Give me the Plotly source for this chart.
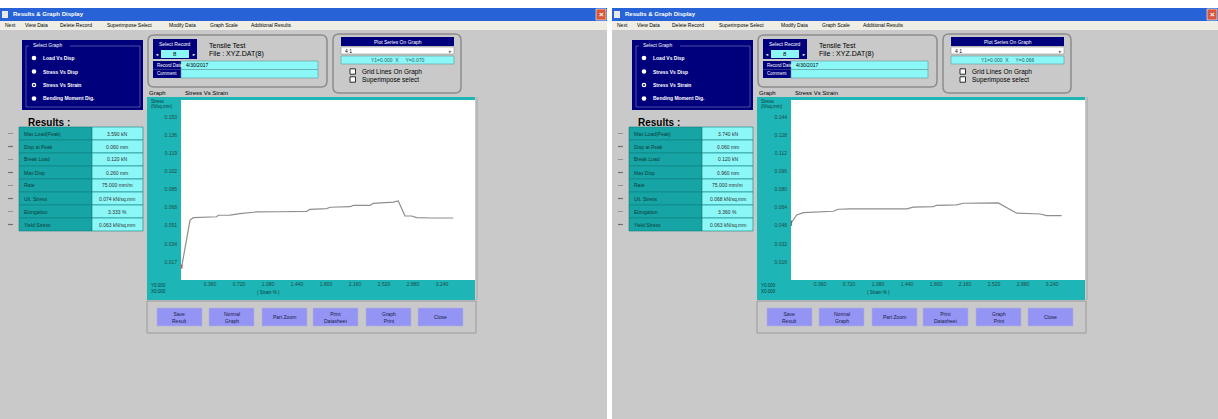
import plotly.graph_objects as go

W, H = 1218, 419
FONT = "Liberation Sans"

# ---- test data (stress in kN/sq.mm vs strain in %) ----
strain_a = [0.009, 0.112, 0.153, 0.277, 0.443, 0.463, 0.608, 0.732, 0.940, 1.229, 1.560, 1.601,
            1.809, 1.850, 2.098, 2.139, 2.346, 2.387, 2.635, 2.697, 2.781, 2.864, 2.926, 3.091, 3.380]
stress_a = [0.0125, 0.0563, 0.0585, 0.0589, 0.0594, 0.0608, 0.0610, 0.0623, 0.0639, 0.0641, 0.0645, 0.0664,
            0.0670, 0.0683, 0.0688, 0.0701, 0.0701, 0.0720, 0.0732, 0.0742, 0.0601, 0.0601, 0.0585, 0.0582, 0.0582]

strain_b = [0.000, 0.071, 0.153, 0.319, 0.525, 0.587, 0.732, 1.436, 1.518, 1.766, 1.809, 2.057,
            2.139, 2.573, 2.635, 2.802, 3.091, 3.174, 3.360]
stress_b = [0.0501, 0.0575, 0.0595, 0.0601, 0.0607, 0.0625, 0.0628, 0.0628, 0.0643, 0.0648, 0.0660, 0.0663,
            0.0678, 0.0681, 0.0657, 0.0590, 0.0583, 0.0568, 0.0568]

x_ticks = [0.36, 0.72, 1.08, 1.44, 1.80, 2.16, 2.52, 2.88, 3.24]
x_ticktext = ["0.360", "0.720", "1.080", "1.440", "1.800", "2.160", "2.520", "2.880", "3.240"]
y_ticks_a = [0.017, 0.034, 0.051, 0.068, 0.085, 0.102, 0.119, 0.136, 0.153]
y_ticks_b = [0.016, 0.032, 0.048, 0.064, 0.080, 0.096, 0.112, 0.128, 0.144]

result_names = ["Max Load(Peak)", "Disp at Peak", "Break Load", "Max Disp",
                "Rate", "Ult. Stress", "Elongation", "Yield Stress"]
results_a = ["3.590 kN", "0.060 mm", "0.120 kN", "0.260 mm",
             "75.000 mm/m", "0.074 kN/sq.mm", "3.333 %", "0.063 kN/sq.mm"]
results_b = ["3.740 kN", "0.060 mm", "0.120 kN", "0.960 mm",
             "75.000 mm/m", "0.068 kN/sq.mm", "3.360 %", "0.063 kN/sq.mm"]

graph_options = ["Load Vs Disp", "Stress Vs Disp", "Stress Vs Strain", "Bending Moment Dig."]
menu_items = ["Next", "View Data", "Delete Record", "Superimpose Select",
              "Modify Data", "Graph Scale", "Additional Results"]
buttons = ["Save<br>Result", "Normal<br>Graph", "Part Zoom", "Print<br>Datasheet", "Graph<br>Print", "Close"]

# ---- colours ----
GRAY = "#c9c9c9"
NAVY = "#00007c"
TEAL = "#1db5b5"
TEAL_D = "#17a4a4"
CYAN = "#8cf7f7"
LAV = "#9494f4"
TITLE = "#2762d6"

shapes, annots = [], []


def fx(x):
    return x / W


def fy(y):
    return 1 - y / H


def rect(x0, y0, x1, y1, fill, line=None, lw=1):
    shapes.append(dict(type="rect", xref="paper", yref="paper",
                       x0=fx(x0), x1=fx(x1), y0=fy(y1), y1=fy(y0),
                       fillcolor=fill, layer="below",
                       line=dict(color=line if line else fill, width=lw if line else 0)))


def rrect(x0, y0, x1, y1, r, fill, line):
    p = (f"M {fx(x0 + r)},{fy(y0)} L {fx(x1 - r)},{fy(y0)} Q {fx(x1)},{fy(y0)} {fx(x1)},{fy(y0 + r)} "
         f"L {fx(x1)},{fy(y1 - r)} Q {fx(x1)},{fy(y1)} {fx(x1 - r)},{fy(y1)} "
         f"L {fx(x0 + r)},{fy(y1)} Q {fx(x0)},{fy(y1)} {fx(x0)},{fy(y1 - r)} "
         f"L {fx(x0)},{fy(y0 + r)} Q {fx(x0)},{fy(y0)} {fx(x0 + r)},{fy(y0)} Z")
    shapes.append(dict(type="path", xref="paper", yref="paper", path=p, fillcolor=fill,
                       layer="below", line=dict(color=line, width=1.5)))


def circle(cx, cy, r, fill, line=None):
    shapes.append(dict(type="circle", xref="paper", yref="paper",
                       x0=fx(cx - r), x1=fx(cx + r), y0=fy(cy + r), y1=fy(cy - r),
                       fillcolor=fill, layer="below",
                       line=dict(color=line if line else fill, width=1 if line else 0)))


def hline(x0, x1, y, color, w=1):
    shapes.append(dict(type="line", xref="paper", yref="paper", x0=fx(x0), x1=fx(x1),
                       y0=fy(y), y1=fy(y), layer="below", line=dict(color=color, width=w)))


def vline(x, y0, y1, color, w=1):
    shapes.append(dict(type="line", xref="paper", yref="paper", x0=fx(x), x1=fx(x),
                       y0=fy(y0), y1=fy(y1), layer="below", line=dict(color=color, width=w)))


def text(x, y, s, size=6, color="#000000", anchor="left", bold=False):
    if bold:
        s = f"<b>{s}</b>"
    annots.append(dict(xref="paper", yref="paper", x=fx(x), y=fy(y), text=s, showarrow=False,
                       xanchor=anchor, yanchor="middle",
                       font=dict(family=FONT, size=size, color=color)))


def window(dx, wx0, wx1, results, comment_val, series_val):
    # frame, title bar and menu
    rect(wx0, 30, wx1, H, GRAY)
    rect(wx0, 8, wx1, 21, TITLE)
    rect(wx0 + 2, 11, wx0 + 8, 18, "#e8e8e8")
    text(wx0 + 11, 14.5, "Results &amp; Graph Display", 6, "#ffffff", bold=True)
    rect(wx1 - 11, 9, wx1 - 1, 20, "#d9583c", "#ffffff", 0.6)
    text(wx1 - 6, 14.5, "×", 8, "#ffffff", "center", True)
    rect(wx0, 21, wx1, 30, "#efeee6")
    mx = wx0 + 3
    for m in menu_items:
        text(mx, 25.5, m, 5, "#000000")
        mx += len(m) * 3.0 + 8

    # graph selector
    rect(22 + dx, 40, 143 + dx, 110, NAVY)
    rect(26 + dx, 46, 140 + dx, 107, NAVY, "#8080c0", 0.6)
    rect(29 + dx, 42, 70 + dx, 49, NAVY)
    text(31 + dx, 45.5, "Select Graph", 5, "#ffffff")
    for i, g in enumerate(graph_options):
        yy = 58 + i * 13.5
        circle(34 + dx, yy, 2.3, "#ffffff")
        if i == 2:
            circle(34 + dx, yy, 1.0, NAVY)
        text(41 + dx, yy, g, 5, "#ffffff", bold=True)

    # results table
    text(26 + dx, 122, "Results :", 10, "#000000", bold=True)
    for i, (n, v) in enumerate(zip(result_names, results)):
        y0 = 127 + i * 13
        rect(19 + dx, y0, 92 + dx, y0 + 13, TEAL_D, "#0f7f7f", 0.6)
        rect(92 + dx, y0, 143 + dx, y0 + 13, CYAN, "#0f7f7f", 0.6)
        text(22 + dx, y0 + 6.5, n, 5, "#0b3d3d")
        text(117.5 + dx, y0 + 6.5, v, 5, "#303030", "center")
        hline(8 + dx, 13 + dx, y0 + 6.5, "#707070", 1.2 if i % 2 else 0.6)

    # record header panel
    rrect(148 + dx, 35, 327 + dx, 87, 6, GRAY, "#8c8c8c")
    rect(153 + dx, 39, 197 + dx, 49, NAVY)
    text(175 + dx, 44, "Select Record", 5, "#ffffff", "center")
    rect(153 + dx, 49, 197 + dx, 59, NAVY)
    rect(161 + dx, 50, 189 + dx, 58, CYAN)
    text(175 + dx, 54, "8", 6, "#000000", "center")
    text(156.5 + dx, 54, "◄", 4, "#ffffff", "center")
    text(193.5 + dx, 54, "►", 4, "#ffffff", "center")
    text(207 + dx, 45, "Tensile Test", 7, "#000000")
    text(207 + dx, 53.5, "File : XYZ.DAT(8)", 7, "#000000")
    rect(153 + dx, 61, 181 + dx, 69.5, NAVY)
    rect(153 + dx, 69.5, 181 + dx, 78, NAVY)
    text(155 + dx, 65.3, "Record Date", 4.5, "#ffffff")
    text(155 + dx, 73.8, "Comment", 4.5, "#ffffff")
    rect(181 + dx, 61, 318 + dx, 69.5, CYAN, "#5a9a9a", 0.6)
    rect(181 + dx, 69.5, 318 + dx, 78, CYAN, "#5a9a9a", 0.6)
    text(184 + dx, 65.3, comment_val, 5, "#000000")

    # series panel
    rrect(333 + dx, 34, 461 + dx, 93, 6, GRAY, "#8c8c8c")
    rect(341 + dx, 37, 454 + dx, 46, NAVY)
    text(397.5 + dx, 41.5, "Plot Series On Graph", 5, "#ffffff", "center")
    rect(341 + dx, 47, 454 + dx, 54, "#ffffff", "#909090", 0.6)
    text(343 + dx, 50.5, "4 1", 5, "#000000")
    text(450 + dx, 50.5, "▸", 5, "#606060", "center")
    rect(341 + dx, 56, 454 + dx, 64, CYAN, "#5a9a9a", 0.6)
    text(397.5 + dx, 60, series_val, 5, "#2a5a5a", "center")
    for j, lab in enumerate(["Grid Lines On Graph", "Superimpose select"]):
        yy = 71.5 + j * 8
        rect(350 + dx, yy - 2.7, 355.5 + dx, yy + 2.7, "#ffffff", "#000000", 0.8)
        text(360 + dx, yy, lab, 6.5, "#000000")

    # graph frame
    text(147 + dx, 93, "Graph", 6, "#000000")
    text(183 + dx, 93, "Stress Vs Strain", 6, "#000000")
    rect(147 + dx, 97, 475 + dx, 300, TEAL)
    rect(181 + dx, 100, 475 + dx, 280, "#ffffff")
    vline(477 + dx, 97, 300, "#a8a8a8", 1)
    text(149 + dx, 101.5, "Stress", 4.5, "#0b3d3d")
    text(149 + dx, 106.5, "(N/sq.mm)", 4.5, "#0b3d3d")
    text(149 + dx, 285, "Y0.000", 4.5, "#0b3d3d")
    text(149 + dx, 291, "X0.000", 4.5, "#0b3d3d")
    text(268 + dx, 292, "( Strain % )", 4.5, "#0b3d3d", "center")

    # command buttons
    rect(147 + dx, 301, 476 + dx, 333, GRAY, "#9a9a9a", 1)
    bx = [157, 209, 262, 313, 366, 418]
    for b, lab in zip(bx, buttons):
        rect(b + dx, 308, b + 45 + dx, 326, LAV, "#b0b0e0", 0.6)
        text(b + 22.5 + dx, 317, lab, 5, "#1a1a4a", "center")


window(0, 0, 607, results_a, "4/30/2017", "Y1=0.000  X     Y=0.070")
window(610, 612, W, results_b, "4/30/2017", "Y1=0.000  X     Y=0.066")

fig = go.Figure()
fig.add_trace(go.Scatter(x=strain_a, y=stress_a, mode="lines", line=dict(color="#8e8e8e", width=1.2),
                         xaxis="x", yaxis="y", hoverinfo="skip"))
fig.add_trace(go.Scatter(x=strain_a[:1], y=stress_a[:1], mode="markers",
                         marker=dict(color="#e05050", size=3, symbol="line-ns-open",
                                     line=dict(color="#e05050", width=1.5)),
                         xaxis="x", yaxis="y", hoverinfo="skip"))
fig.add_trace(go.Scatter(x=strain_b, y=stress_b, mode="lines", line=dict(color="#8e8e8e", width=1.2),
                         xaxis="x2", yaxis="y2", hoverinfo="skip"))
fig.add_trace(go.Scatter(x=strain_b[:1], y=stress_b[:1], mode="markers",
                         marker=dict(color="#505050", size=4, symbol="line-ns-open",
                                     line=dict(color="#505050", width=1.5)),
                         xaxis="x2", yaxis="y2", hoverinfo="skip"))

tickfont = dict(family=FONT, size=5, color="#1d4a4a")
common_x = dict(range=[0, 3.65], tickvals=x_ticks, ticktext=x_ticktext, showgrid=False,
                zeroline=False, showline=False, ticks="", tickfont=tickfont, fixedrange=True)
common_y = dict(showgrid=False, zeroline=False, showline=False, ticks="", tickfont=tickfont,
                tickformat=".3f", fixedrange=True, ticklabelstandoff=3)

fig.update_layout(
    width=W, height=H, margin=dict(l=0, r=0, t=0, b=0),
    paper_bgcolor="#ffffff", plot_bgcolor="rgba(0,0,0,0)", showlegend=False,
    xaxis=dict(domain=[fx(181), fx(475)], anchor="y", **common_x),
    yaxis=dict(domain=[fy(280), fy(100)], anchor="x", range=[0, 0.169], tickvals=y_ticks_a, **common_y),
    xaxis2=dict(domain=[fx(791), fx(1085)], anchor="y2", **common_x),
    yaxis2=dict(domain=[fy(280), fy(100)], anchor="x2", range=[0, 0.159], tickvals=y_ticks_b, **common_y),
    shapes=shapes, annotations=annots,
)

fig.write_html("out.html")
